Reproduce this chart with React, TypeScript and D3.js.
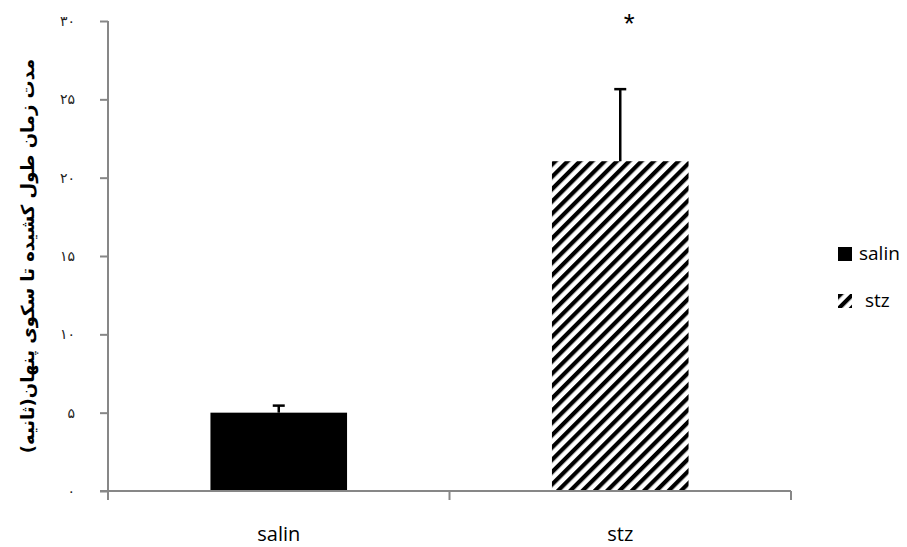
import React, { useRef, useEffect } from 'react';
import * as d3 from 'd3';

// data
const categories = ['salin', 'stz'];
const means = [5.0, 21.05];
const errors = [0.45, 4.6];
const yTickValues = [0, 5, 10, 15, 20, 25, 30];
const yTickLabels = ['۰', '۵', '۱۰', '۱۵', '۲۰', '۲۵', '۳۰'];
const yTitle = 'مدت زمان طول کشیده تا سکوی پنهان(ثانیه)';
const significance = ['', '*'];

const App = () => {
  const svgRef = useRef<SVGSVGElement>(null);

  useEffect(() => {
    const width = 907;
    const height = 547;
    const axisColor = '#878787';

    const svg = d3.select(svgRef.current)
      .attr('width', width)
      .attr('height', height)
      .attr('viewBox', `0 0 ${width} ${height}`);

    svg.selectAll('*').remove();

    // hatch pattern for stz
    svg.append('defs')
      .append('pattern')
      .attr('id', 'hatch')
      .attr('patternUnits', 'userSpaceOnUse')
      .attr('width', 8.7)
      .attr('height', 8.7)
      .attr('patternTransform', 'rotate(45)')
      .append('rect')
      .attr('x', 0)
      .attr('y', 0)
      .attr('width', 4.2)
      .attr('height', 8.7)
      .attr('fill', '#000');

    const fills = ['#000', 'url(#hatch)'];

    const x = d3.scaleBand<string>()
      .domain(categories)
      .range([108, 791])
      .paddingInner(0.6)
      .paddingOuter(0.3);

    const xCat = d3.scaleBand<string>()
      .domain(categories)
      .range([108, 791]);

    const y = d3.scaleLinear()
      .domain([0, 30])
      .range([491, 21]);

    // bars
    svg.append('g')
      .selectAll('rect')
      .data(categories)
      .join('rect')
      .attr('x', d => x(d)!)
      .attr('y', (d, i) => y(means[i]))
      .attr('width', x.bandwidth())
      .attr('height', (d, i) => y(0) - y(means[i]))
      .attr('fill', (d, i) => fills[i]);

    // error bars (upper only)
    const err = svg.append('g')
      .attr('stroke', '#000')
      .attr('stroke-width', 2.5);
    categories.forEach((c, i) => {
      const cx = x(c)! + x.bandwidth() / 2;
      err.append('line')
        .attr('x1', cx).attr('x2', cx)
        .attr('y1', y(means[i])).attr('y2', y(means[i] + errors[i]));
      err.append('line')
        .attr('x1', cx - 6).attr('x2', cx + 6)
        .attr('y1', y(means[i] + errors[i])).attr('y2', y(means[i] + errors[i]));
    });

    // significance marker
    svg.append('g')
      .selectAll('text')
      .data(categories)
      .join('text')
      .attr('x', d => x(d)! + x.bandwidth() / 2 + 9)
      .attr('y', 33)
      .attr('text-anchor', 'middle')
      .attr('font-family', 'Liberation Sans, sans-serif')
      .attr('font-size', 28)
      .attr('fill', '#000')
      .text((d, i) => significance[i]);

    // y axis
    svg.append('g')
      .attr('transform', 'translate(108,0)')
      .call(d3.axisLeft(y).tickValues(yTickValues).tickSize(8).tickPadding(25)
        .tickFormat((d, i) => yTickLabels[i]))
      .call(g => g.select('.domain').attr('stroke', axisColor).attr('stroke-width', 2)
        .attr('d', `M0,${y(30)}V${y(0) + 9}`))
      .call(g => g.selectAll('.tick line').attr('stroke', axisColor).attr('stroke-width', 2))
      .call(g => g.selectAll('.tick text')
        .attr('fill', '#222')
        .attr('font-family', 'DejaVu Sans, sans-serif')
        .attr('font-size', 14));

    // x axis with category boundary ticks
    const xAxis = svg.append('g')
      .attr('stroke', axisColor)
      .attr('stroke-width', 2);
    xAxis.append('line')
      .attr('x1', 100).attr('x2', 791)
      .attr('y1', y(0)).attr('y2', y(0));
    const bounds = [...categories.map(c => xCat(c)!), 791].slice(1);
    bounds.forEach(b => {
      xAxis.append('line')
        .attr('x1', b).attr('x2', b)
        .attr('y1', y(0)).attr('y2', y(0) + 9);
    });

    // x labels
    svg.append('g')
      .selectAll('text')
      .data(categories)
      .join('text')
      .attr('x', d => x(d)! + x.bandwidth() / 2)
      .attr('y', 541)
      .attr('text-anchor', 'middle')
      .attr('font-family', 'Open Sans, sans-serif')
      .attr('font-size', 20)
      .attr('fill', '#000')
      .text(d => d);

    // y title
    svg.append('text')
      .attr('transform', 'translate(34,256) rotate(-90)')
      .attr('text-anchor', 'middle')
      .attr('font-family', 'DejaVu Sans, sans-serif')
      .attr('font-weight', 'bold')
      .attr('font-size', 18)
      .attr('direction', 'rtl')
      .attr('fill', '#000')
      .text(yTitle);

    // legend
    const legend = svg.append('g');
    const legendY = [247, 294];
    const legendTextX = [859, 865];
    categories.forEach((c, i) => {
      legend.append('rect')
        .attr('x', 838).attr('y', legendY[i])
        .attr('width', 14).attr('height', 14)
        .attr('fill', fills[i]);
      legend.append('text')
        .attr('x', legendTextX[i])
        .attr('y', legendY[i] + 13)
        .attr('font-family', 'Open Sans, sans-serif')
        .attr('font-size', 19)
        .attr('fill', '#000')
        .text(c);
    });
  }, []);

  return (
    <svg ref={svgRef} style={{ position: 'absolute', left: 0, top: 0 }}></svg>
  );
};

export default App;
